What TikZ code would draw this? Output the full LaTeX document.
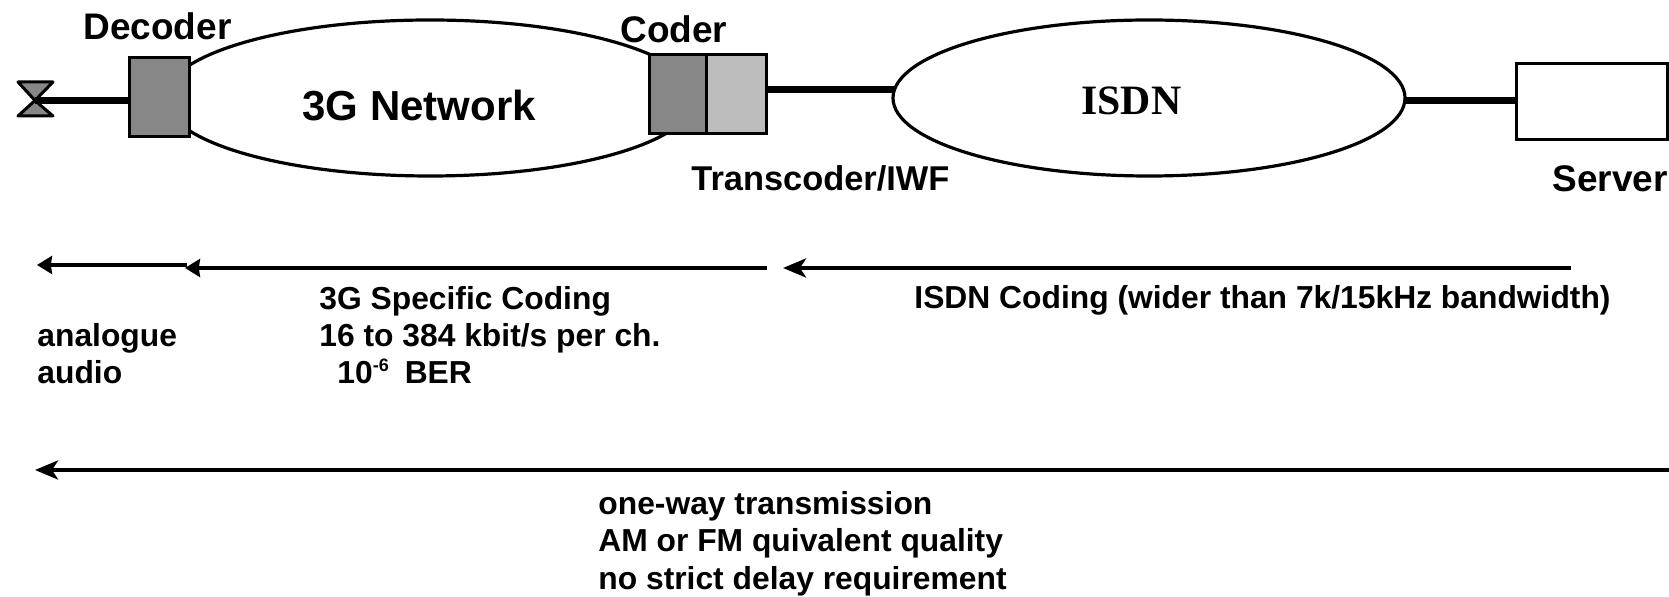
\documentclass[tikz,border=0pt]{standalone}
\usepackage{fontspec}
\setmainfont{Liberation Sans}
\newfontfamily\serifpart{Liberation Serif}
\usepackage{tikz}
\usetikzlibrary{arrows.meta,shapes.geometric}

\definecolor{darkbox}{gray}{0.53}
\definecolor{lightbox}{gray}{0.74}
\tikzset{
  net/.style={draw,line width=1.6pt,ellipse,fill=white,minimum width=265pt,minimum height=78pt,inner sep=0pt},
  codec/.style={draw,line width=1.5pt,fill=darkbox,minimum width=30pt,minimum height=39.5pt,inner sep=0pt},
  link/.style={line width=3.5pt},
  shortarrow/.style={line width=2pt,-{Stealth[length=7.5pt,width=9pt,inset=.6pt]}},
  longarrow/.style={line width=2pt,-{Stealth[length=11.5pt,width=9.5pt,inset=3pt]}},
  lab/.style={font=\bfseries\fontsize{18.5}{22}\selectfont,anchor=base west,inner sep=0pt},
  note/.style={font=\bfseries\fontsize{15.9}{18.7}\selectfont,anchor=base west,inner sep=0pt,align=left}
}

\begin{document}
\begin{tikzpicture}[x=0.5pt,y=-0.5pt]
 \useasboundingbox (0,0) rectangle (1669,597);

 \node[net] (net) at (430,98) {};
 \node[net,minimum width=256pt] (isdn) at (1149,98) {};
 \node[codec] (dec) at (159,97.5) {};
 \node[codec,minimum width=28.5pt] (coder) at (678,94) {};
 \node[codec,fill=lightbox,right of=coder,node distance=29pt] (trans) {};
 \node[codec,fill=white,minimum width=75.5pt,minimum height=38pt] (srv) at (1591.5,102) {};

 % loudspeaker
 \coordinate (spk) at (35,100.5);
 \draw[line width=1.5pt,fill=darkbox,line join=round] (spk) -- (18,82) -- (53,82) -- cycle;
 \draw[line width=1.5pt,fill=darkbox,line join=round] (spk) -- (53,116) -- (18,116) -- cycle;

 \coordinate (decIn) at (dec.west |- spk);
 \coordinate (transOut) at (765,90);
 \coordinate (isdnIn) at (894,90);
 \coordinate (isdnOut) at (1405,100.5);
 \coordinate (srvIn) at (srv.west |- spk);
 \draw[link] (spk) -- (decIn);
 \draw[link] (transOut) -- (isdnIn);
 \draw[link] (isdnOut) -- (srvIn);

 \node[lab] (decoderlab) at (83,40) {Decoder};
 \node[lab] (coderlab) at (620,43) {Coder};
 \node[lab,font=\bfseries\fontsize{17.2}{20}\selectfont] (translab) at (691,191) {Transcoder/IWF};
 \node[lab] (srvlab) at (1552,192) {Server};
 \node[lab,font=\bfseries\fontsize{21}{25}\selectfont] (netlab) at (302,121) {3G Network};
 \node[lab,font=\serifpart\bfseries\fontsize{20.9}{24}\selectfont] (isdnlab) at (1081,115) {ISDN};

 % the codings along the path
 \coordinate (anaR) at (187,265);
 \coordinate (anaL) at (37,265);
 \coordinate (spcR) at (767,268);
 \coordinate (spcL) at (185,268);
 \coordinate (isdR) at (1571,268);
 \coordinate (isdL) at (783,268);
 \coordinate (allR) at (1669,470);
 \coordinate (allL) at (35,468);
 \draw[shortarrow,line width=1.6pt] (anaR) -- (anaL);
 \draw[shortarrow] (spcR) -- (spcL);
 \draw[longarrow] (isdR) -- (isdL);
 \draw[longarrow] (allR) -- (allL |- allR);

 \node[note] (analab) at (37,384) {analogue\\audio};
 \node[note] (spclab) at (319,384) {3G Specific Coding\\16 to 384 kbit/s per ch.\\\hspace*{9pt}10\raisebox{6pt}{\fontsize{9}{9}\selectfont -6}\hspace{8pt}BER};
 \node[note] (isdlab) at (914,309) {ISDN Coding (wider than 7k/15kHz bandwidth)};
 \node[note] (alllab) at (598,589) {one-way transmission\\AM or FM quivalent quality\\no strict delay requirement};
\end{tikzpicture}
\end{document}
